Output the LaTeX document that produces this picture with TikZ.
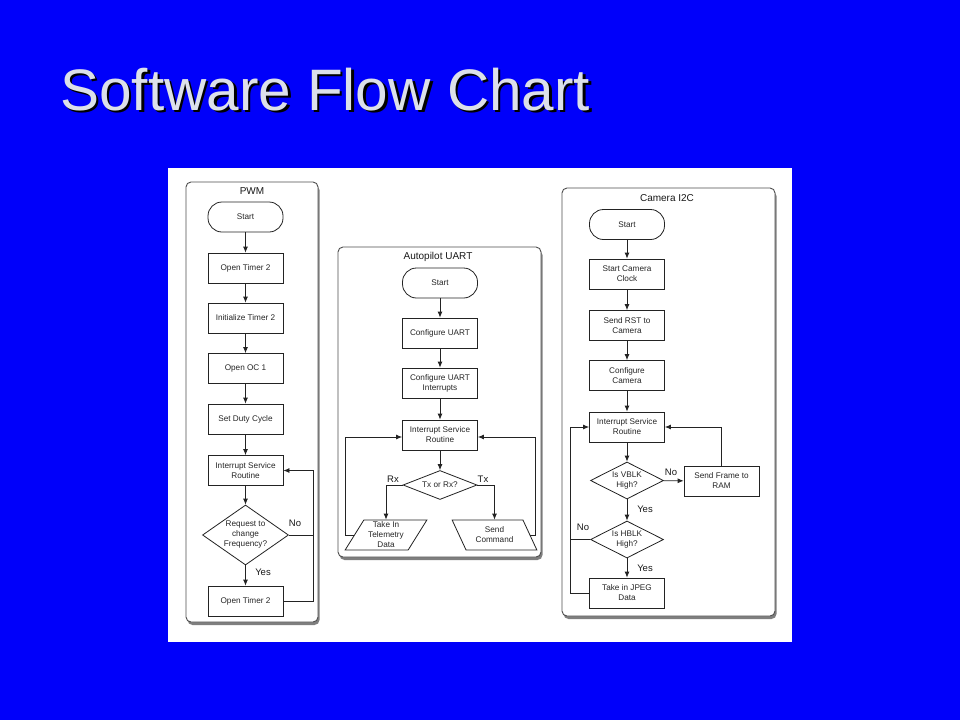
\documentclass[tikz,border=0pt]{standalone}
\usepackage{fontspec}
\setmainfont{Liberation Sans}
\usetikzlibrary{shapes.geometric,shapes.misc,arrows.meta,shadows}
\definecolor{bgblue}{RGB}{0,0,250}
\definecolor{titlegray}{RGB}{220,224,234}
\definecolor{linec}{RGB}{35,35,35}
\tikzset{
  panel/.style={draw=linec!80, line width=0.9pt, fill=white, rounded corners=5pt,
    drop shadow={shadow xshift=1.5pt, shadow yshift=-3pt, opacity=0.5, fill=black}},
  ptitle/.style={font=\fontsize{10}{12}\selectfont, text=black!90},
  base/.style={draw=linec, line width=0.8pt, fill=white, align=center, inner sep=0pt,
    font=\fontsize{8.2}{10}\selectfont, text=black!85},
  proc/.style={base, rectangle, minimum width=75pt, minimum height=30pt},
  term/.style={base, rectangle, rounded corners=14pt, minimum width=75pt, minimum height=30pt},
  dec/.style={base, diamond},
  parl/.style={base, trapezium, trapezium left angle=60, trapezium right angle=120,
    trapezium stretches=true, minimum width=82pt, minimum height=30pt},
  parr/.style={base, trapezium, trapezium left angle=120, trapezium right angle=60,
    trapezium stretches=true, minimum width=85pt, minimum height=30pt},
  arr/.style={draw=linec, line width=0.8pt, -{Latex[length=6pt,width=5pt]}},
  ln/.style={draw=linec, line width=0.8pt},
  lbl/.style={font=\fontsize{9.5}{11}\selectfont, text=black!90, inner sep=0pt}
}
\begin{document}
\begin{tikzpicture}[x=1pt,y=-1pt]
\useasboundingbox[fill=bgblue] (0,0) rectangle (960,720);
% title with shadow
\node[anchor=base west, font=\fontsize{58.5}{62}\selectfont, text=black, inner sep=0pt] (tshadow) at (62.5,112.5) {Software Flow Chart};
\node[anchor=base west, font=\fontsize{58.5}{62}\selectfont, text=titlegray, inner sep=0pt] (title) at (60,110) {Software Flow Chart};
% white sheet
\fill[white] (168,168) rectangle (792,642);
% panels
\node[panel, minimum width=132pt, minimum height=440pt] (pwmbox) at (252,402) {};
\node[panel, minimum width=203pt, minimum height=310pt] (uartbox) at (439.5,402) {};
\node[panel, minimum width=213pt, minimum height=428pt] (cambox) at (668.5,402) {};
\node[ptitle] (pwmt) at (252,191) {PWM};
\node[ptitle] (uartt) at (438,257) {Autopilot UART};
\node[ptitle] (camt) at (667,198) {Camera I2C};
% ---------- PWM ----------
\node[term] (ps) at (245.5,217) {Start};
\node[proc] (p1) at (245.5,268) {Open Timer 2};
\node[proc] (p2) at (245.5,318) {Initialize Timer 2};
\node[proc] (p3) at (245.5,368.5) {Open OC 1};
\node[proc] (p4) at (245.5,419) {Set Duty Cycle};
\node[proc] (pisr) at (245.5,470.5) {Interrupt Service\\Routine};
\node[dec, minimum width=86pt, minimum height=60pt, aspect=1.43] (pd) at (245.5,535) {Request to\\change\\Frequency?};
\node[proc] (p5) at (245.5,601) {Open Timer 2};
\coordinate (pl) at (313,0);
\draw[arr] (ps) -- (p1);
\draw[arr] (p1) -- (p2);
\draw[arr] (p2) -- (p3);
\draw[arr] (p3) -- (p4);
\draw[arr] (p4) -- (pisr);
\draw[arr] (pisr) -- (pd);
\draw[arr] (pd) -- (p5);
\draw[arr] (pd.east) -- (pd.east -| pl) |- (pisr.east);
\draw[ln] (p5.east) -| (pl |- pd.east);
\node[lbl] (pno) at (295,523) {No};
\node[lbl] (pyes) at (263,572) {Yes};
% ---------- UART ----------
\node[term] (us) at (440,283) {Start};
\node[proc] (u1) at (440,333) {Configure UART};
\node[proc] (u2) at (440,383) {Configure UART\\Interrupts};
\node[proc] (uisr) at (440,435) {Interrupt Service\\Routine};
\node[dec, minimum width=74pt, minimum height=29pt, aspect=2.55] (ud) at (440,485) {Tx or Rx?};
\node[parl] (ut) at (386,535) {Take In\\Telemetry\\Data};
\node[parr] (uc) at (494.5,535) {Send\\Command};
\coordinate (ulx) at (345,0);
\coordinate (urx) at (535,0);
\draw[arr] (us) -- (u1);
\draw[arr] (u1) -- (u2);
\draw[arr] (u2) -- (uisr);
\draw[arr] (uisr) -- (ud);
\draw[arr] (ud.west) -| (ut.north);
\draw[arr] (ud.east) -| (uc.north);
\draw[arr] (ut.west) -- (ut.west -| ulx) |- ([yshift=-2pt]uisr.west);
\draw[arr] (uc.east) -- (uc.east -| urx) |- ([yshift=-2pt]uisr.east);
\node[lbl] (urxl) at (393,479) {Rx};
\node[lbl] (utxl) at (483,479) {Tx};
% ---------- Camera ----------
\node[term] (cs) at (627,224.5) {Start};
\node[proc] (c1) at (627,274) {Start Camera\\Clock};
\node[proc] (c2) at (627,325.5) {Send RST to\\Camera};
\node[proc] (c3) at (627,375.5) {Configure\\Camera};
\node[proc] (cisr) at (627,427) {Interrupt Service\\Routine};
\node[dec, minimum width=73pt, minimum height=37pt, aspect=2] (cv) at (627,480.5) {Is VBLK\\High?};
\node[proc] (cram) at (721.5,481) {Send Frame to\\RAM};
\node[dec, minimum width=73pt, minimum height=37pt, aspect=2] (ch) at (627,539.5) {Is HBLK\\High?};
\node[proc] (cj) at (627,593) {Take in JPEG\\Data};
\coordinate (clx) at (570,0);
\draw[arr] (cs) -- (c1);
\draw[arr] (c1) -- (c2);
\draw[arr] (c2) -- (c3);
\draw[arr] (c3) -- (cisr);
\draw[arr] (cisr) -- (cv);
\draw[arr] (cv) -- (cram);
\draw[arr] (cram.north) |- (cisr.east);
\draw[arr] (cv) -- (ch);
\draw[arr] (ch) -- (cj);
\draw[arr] (ch.west) -- (ch.west -| clx) |- (cisr.west);
\draw[ln] (cj.west) -| (clx |- ch.west);
\node[lbl] (cno1) at (671,472) {No};
\node[lbl] (cyes1) at (645,509) {Yes};
\node[lbl] (cno2) at (583,527) {No};
\node[lbl] (cyes2) at (645,568) {Yes};
\end{tikzpicture}
\end{document}
